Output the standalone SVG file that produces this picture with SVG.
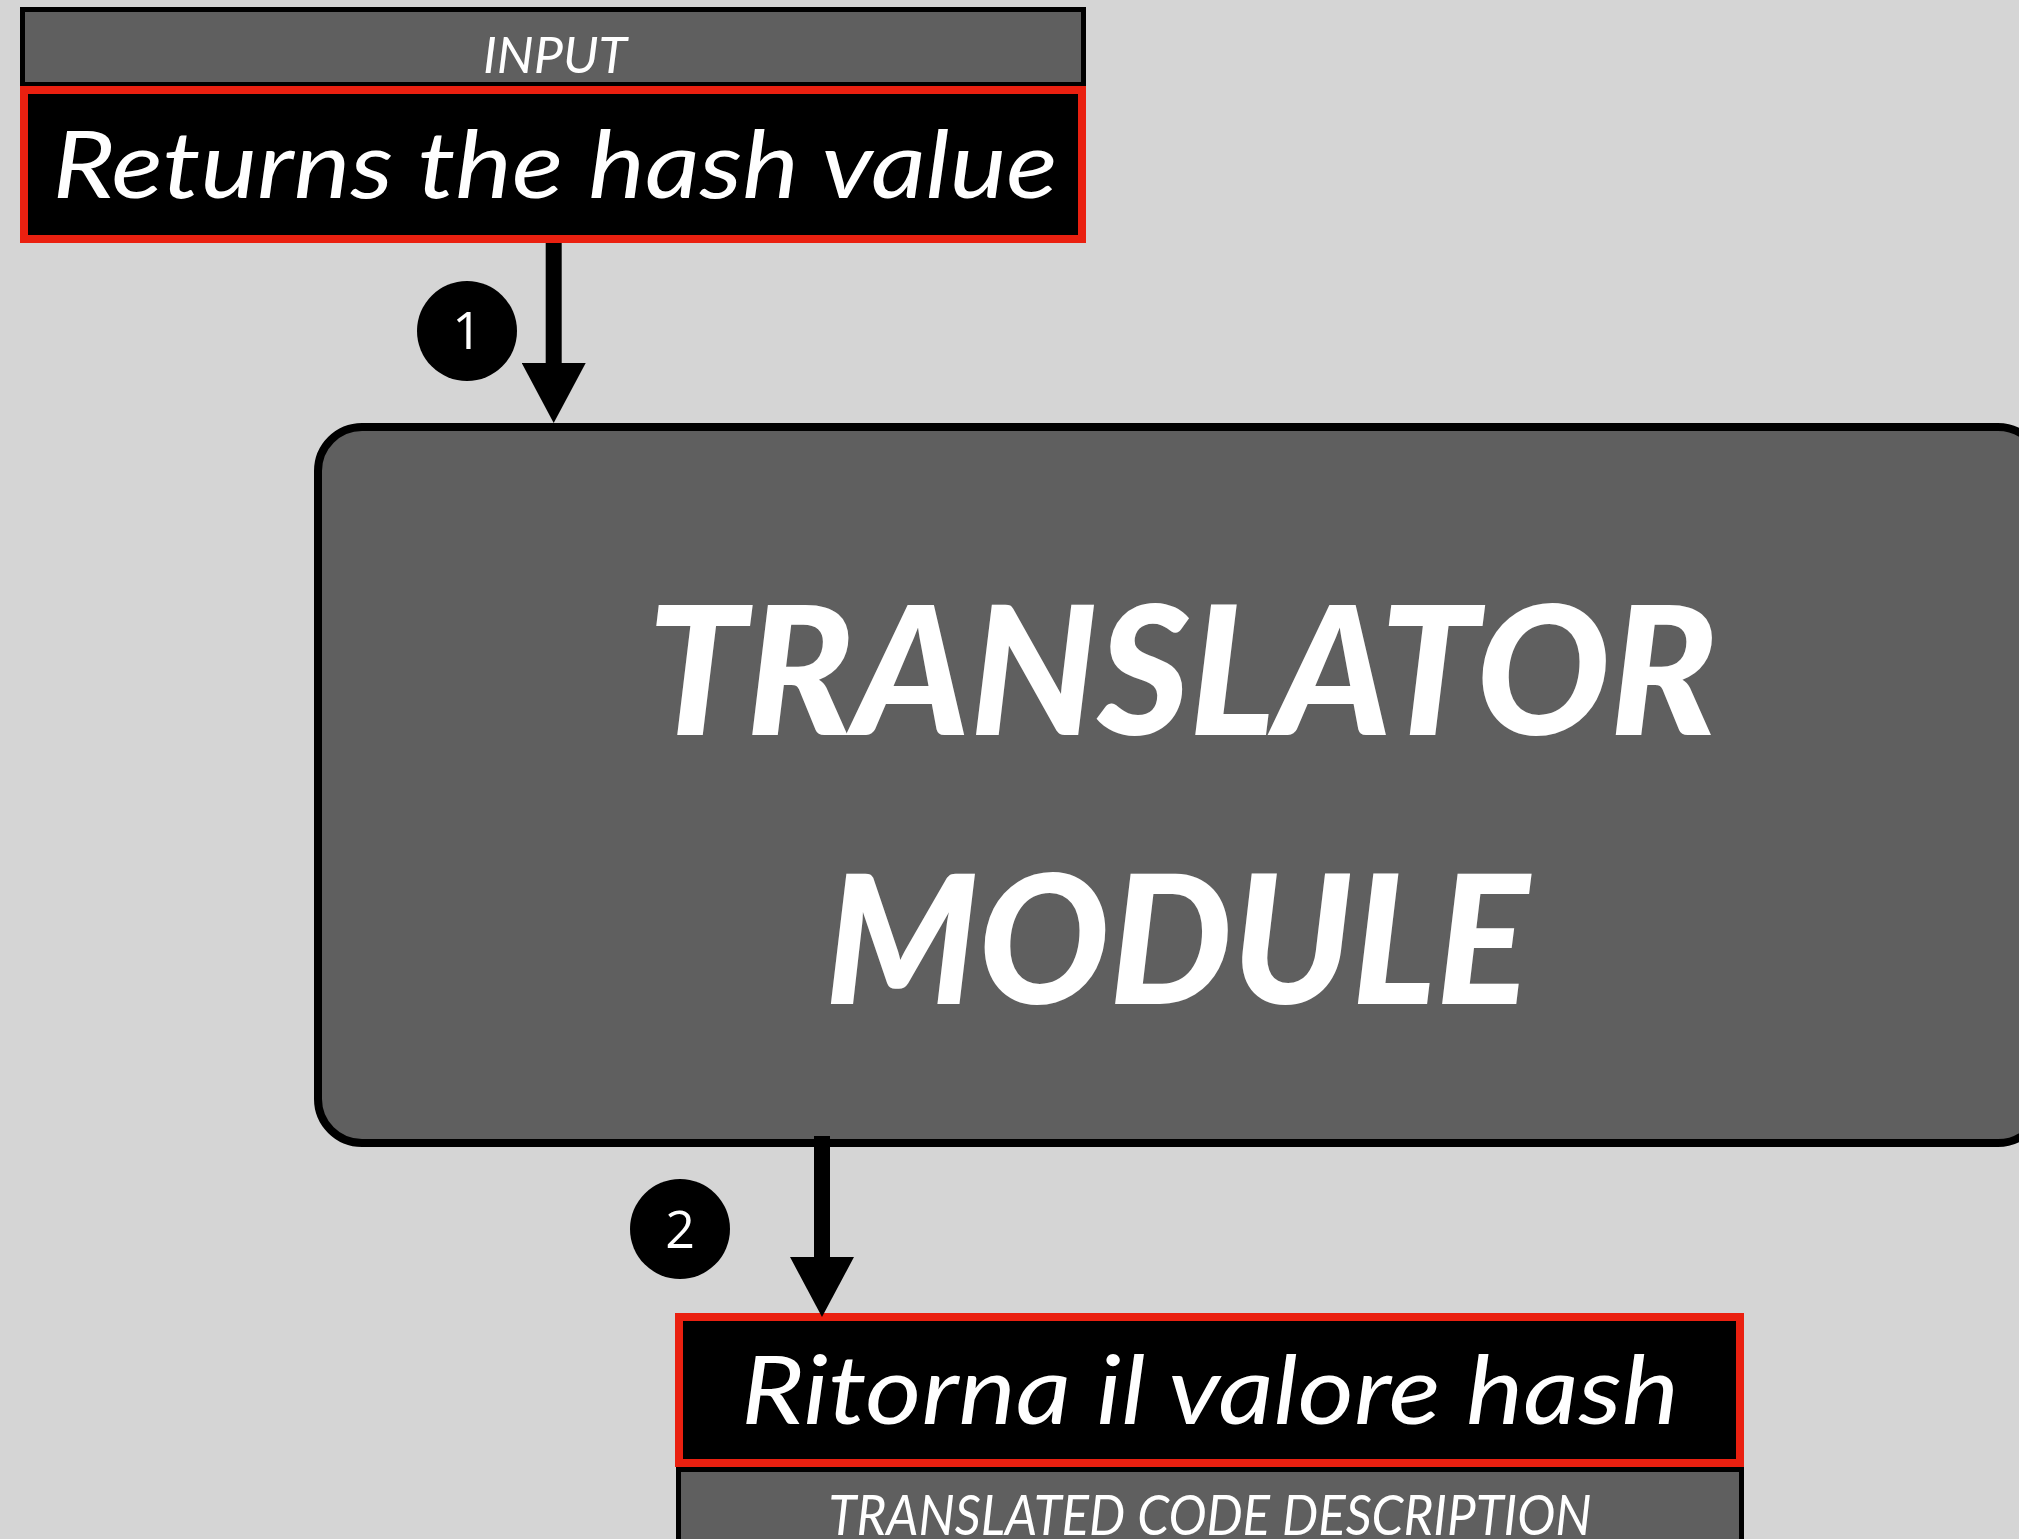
<svg xmlns="http://www.w3.org/2000/svg" width="2019" height="1539" viewBox="0 0 2019 1539">
<style>
.hdr{fill:#5f5f5f;stroke:#000;stroke-width:5}
.red{fill:#000;stroke:#ea2010;stroke-width:8}
.lbl{font-family:Lato,"Noto Sans","Liberation Sans",sans-serif;font-style:italic;fill:#fff;text-anchor:middle}
.big{font-family:Lato,"Noto Sans","Liberation Sans",sans-serif;font-style:italic;font-weight:900;fill:#fff;text-anchor:middle}
.num{font-family:"Open Sans","Noto Sans","Liberation Sans",sans-serif;fill:#fff;text-anchor:middle}
.conn{stroke:#000;stroke-width:16;fill:none}
</style>
<defs>
<marker id="ah" viewBox="0 0 60 64" refX="0" refY="32" markerWidth="60" markerHeight="64" markerUnits="userSpaceOnUse" orient="auto">
<path d="M0,0 L60,32 L0,64 Z" fill="#000"/>
</marker>
</defs>
<rect width="2019" height="1539" fill="#d5d5d5"/>
<g id="input-node">
<rect class="hdr" x="22.5" y="9.5" width="1061" height="75"/>
<text class="lbl" x="555" y="73" font-size="50" textLength="144" lengthAdjust="spacingAndGlyphs">INPUT</text>
<rect class="red" x="24" y="90" width="1058" height="149"/>
<text class="lbl" x="555" y="198" font-size="94" textLength="1005" lengthAdjust="spacingAndGlyphs">Returns the hash value</text>
</g>
<g id="translator-node">
<rect x="318" y="427" width="1724" height="716" rx="44" ry="44" fill="#5f5f5f" stroke="#000" stroke-width="8"/>
<text class="big" x="1182" y="735" font-size="180" textLength="1070" lengthAdjust="spacingAndGlyphs">TRANSLATOR</text>
<text class="big" x="1177" y="1004" font-size="180" textLength="704" lengthAdjust="spacingAndGlyphs">MODULE</text>
</g>
<g id="output-node">
<rect class="red" x="679" y="1317" width="1061" height="146"/>
<text class="lbl" x="1210" y="1424" font-size="96" textLength="938" lengthAdjust="spacingAndGlyphs">Ritorna il valore hash</text>
<rect class="hdr" x="678.5" y="1469.5" width="1063" height="90"/>
<text class="lbl" x="1210" y="1535" font-size="57" textLength="763" lengthAdjust="spacingAndGlyphs">TRANSLATED CODE DESCRIPTION</text>
</g>
<g id="connectors">
<line class="conn" x1="553.7" y1="243" x2="553.7" y2="363" marker-end="url(#ah)"/>
<line class="conn" x1="822" y1="1136" x2="822" y2="1257" marker-end="url(#ah)"/>
</g>
<g id="step-1">
<circle cx="467" cy="331" r="50" fill="#000"/>
<text class="num" x="467" y="349" font-size="52">1</text>
</g>
<g id="step-2">
<circle cx="680" cy="1229" r="50" fill="#000"/>
<text class="num" x="680" y="1248" font-size="52">2</text>
</g>
</svg>
